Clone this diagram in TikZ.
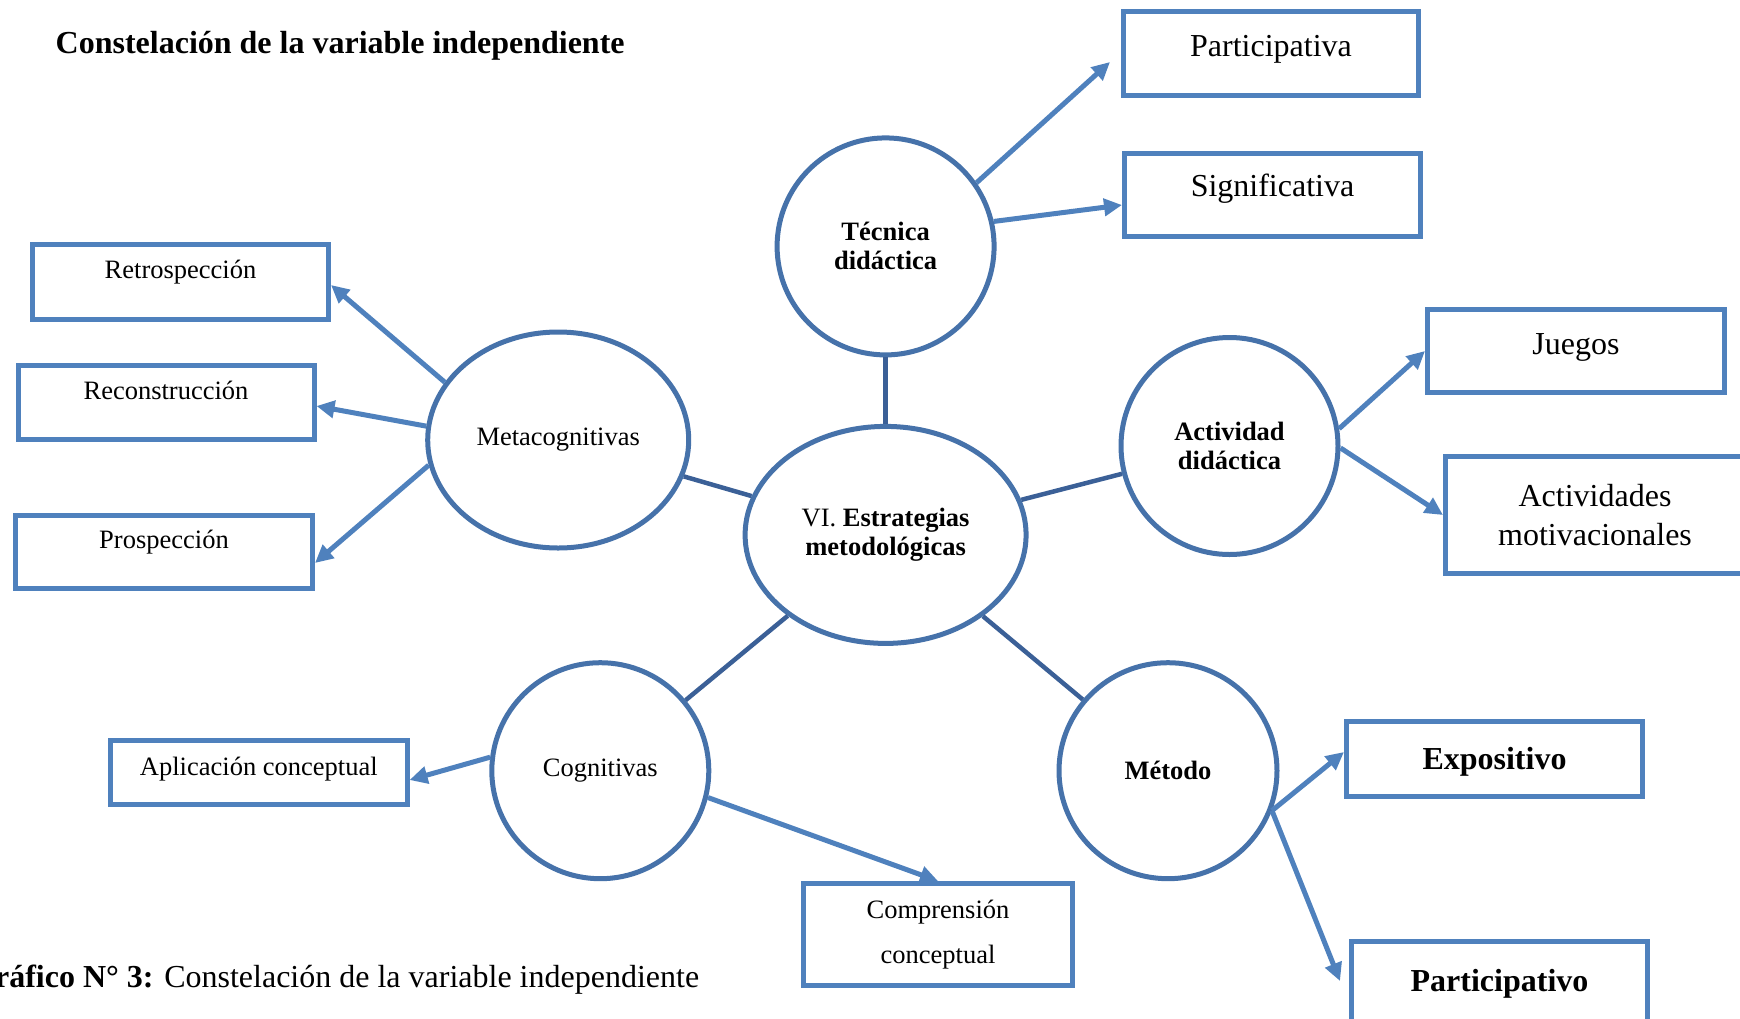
\documentclass[tikz,border=0pt]{standalone}
\usepackage{fontspec}
\setmainfont{Liberation Serif}
\usetikzlibrary{shapes.geometric,arrows.meta}
\definecolor{boxblue}{HTML}{4F81BD}
\definecolor{circblue}{HTML}{4672AA}
\definecolor{linkblue}{HTML}{3B6097}
\begin{document}
\begin{tikzpicture}[x=1pt,y=-1pt,
  big/.style={font=\fontsize{32}{39}\selectfont},
  small/.style={font=\fontsize{26.5}{29}\selectfont},
  circ/.style={ellipse,draw=circblue,line width=5pt,inner sep=0pt,align=center,small,fill=white},
  box/.style={rectangle,draw=boxblue,line width=5pt,inner sep=0pt,align=center,fill=white},
  link/.style={draw=linkblue,line width=4.5pt},
  arr/.style={draw=boxblue,line width=5pt,-{Triangle[length=18pt,width=17pt]}}
]
\useasboundingbox (0,0) rectangle (1740,1018);

% titles
\node[anchor=base west,inner sep=0pt,font=\fontsize{32}{39}\selectfont\bfseries] (title) at (55.5,53) {Constelación de la variable independiente};
\node[anchor=base west,inner sep=0pt,big] (caption) at (-30,987) {\textbf{Gráfico N° 3:} Constelación de la variable independiente};

% circles
\node[circ,minimum width=217pt,minimum height=217pt] (tec) at (885.6,246.4) {\textbf{Técnica}\\\textbf{didáctica}};
\node[circ,minimum width=261pt,minimum height=216pt] (meta) at (558.2,440) {Metacognitivas};
\node[circ,minimum width=281pt,minimum height=217pt] (cen) at (885.6,534.9) {VI. \textbf{Estrategias}\\\textbf{metodológicas}};
\node[circ,minimum width=217pt,minimum height=217pt] (act) at (1229.5,446) {\textbf{Actividad}\\\textbf{didáctica}};
\node[circ,minimum width=217pt,minimum height=216pt] (cog) at (600.3,770.7) {Cognitivas};
\node[circ,minimum width=218pt,minimum height=216pt] (met) at (1168,770.7) {\textbf{Método}};

% boxes
\node[box,big,minimum width=295pt,minimum height=84pt,text height=25pt,text depth=20pt] (part) at (1271,53.5) {Participativa};
\node[box,big,minimum width=296pt,minimum height=83pt,text height=25pt,text depth=22pt] (sig) at (1272.5,195) {Significativa};
\node[box,small,minimum width=296pt,minimum height=75pt,text height=21pt,text depth=27.4pt] (retro) at (180.5,282) {Retrospección};
\node[box,small,minimum width=296pt,minimum height=74pt,text height=21pt,text depth=26.4pt] (recon) at (166,402.5) {Reconstrucción};
\node[box,small,minimum width=297pt,minimum height=73.5pt,text height=21pt,text depth=27.4pt] (pros) at (164,552) {Prospección};
\node[box,big,minimum width=297pt,minimum height=83pt,text height=25pt,text depth=18pt] (jue) at (1576,351) {Juegos};
\node[box,font=\fontsize{32}{39}\selectfont,minimum width=299pt,minimum height=117pt] (mot) at (1595,515) {Actividades\\motivacionales};
\node[box,big,minimum width=296pt,minimum height=75pt,text height=25pt,text depth=4pt] (exp) at (1494.5,759) {\textbf{Expositivo}};
\node[box,big,minimum width=296pt,minimum height=83pt,text height=25pt,text depth=8pt] (partvo) at (1499.5,983) {\textbf{Participativo}};
\node[box,small,minimum width=296.5pt,minimum height=64pt,text height=21pt,text depth=14.4pt] (apl) at (258.8,772.5) {Aplicación conceptual};
\node[box,small,minimum width=269pt,minimum height=102pt] (comp) at (938,934.5) {Comprensión\\[16pt]conceptual};

% links between circles
\draw[link] (tec) -- (cen);
\draw[link] (meta) -- (cen);
\draw[link] (cen) -- (act);
\draw[link] (cen) -- (cog);
\draw[link] (cen) -- (met);

% arrows
\draw[arr] (tec.35.4) -- ([xshift=-11pt,yshift=-8.5pt]part.west);
\draw[arr] (tec.13.8) -- ([yshift=-10pt]sig.west);
\draw[arr] (meta.153.9) -- ([yshift=-3pt]retro.east);
\draw[arr] (meta.174.8) -- ([yshift=-3.5pt]recon.east);
\draw[arr] (meta.191.6) -- ([yshift=-11pt]pros.east);
\draw[arr] (act.9.3) -- (jue.west);
\draw[arr] (act.-1) -- (mot.west);
\draw[arr] (cog.173.3) -- ([yshift=-7.5pt]apl.east);
\draw[arr] (cog.-14.6) -- (comp.north);
\draw[arr] (met.-21.5) -- ([yshift=7pt]exp.west);
\draw[arr] (met.-21.5) -- ([xshift=-9pt,yshift=2pt]partvo.west);
\end{tikzpicture}
\end{document}
